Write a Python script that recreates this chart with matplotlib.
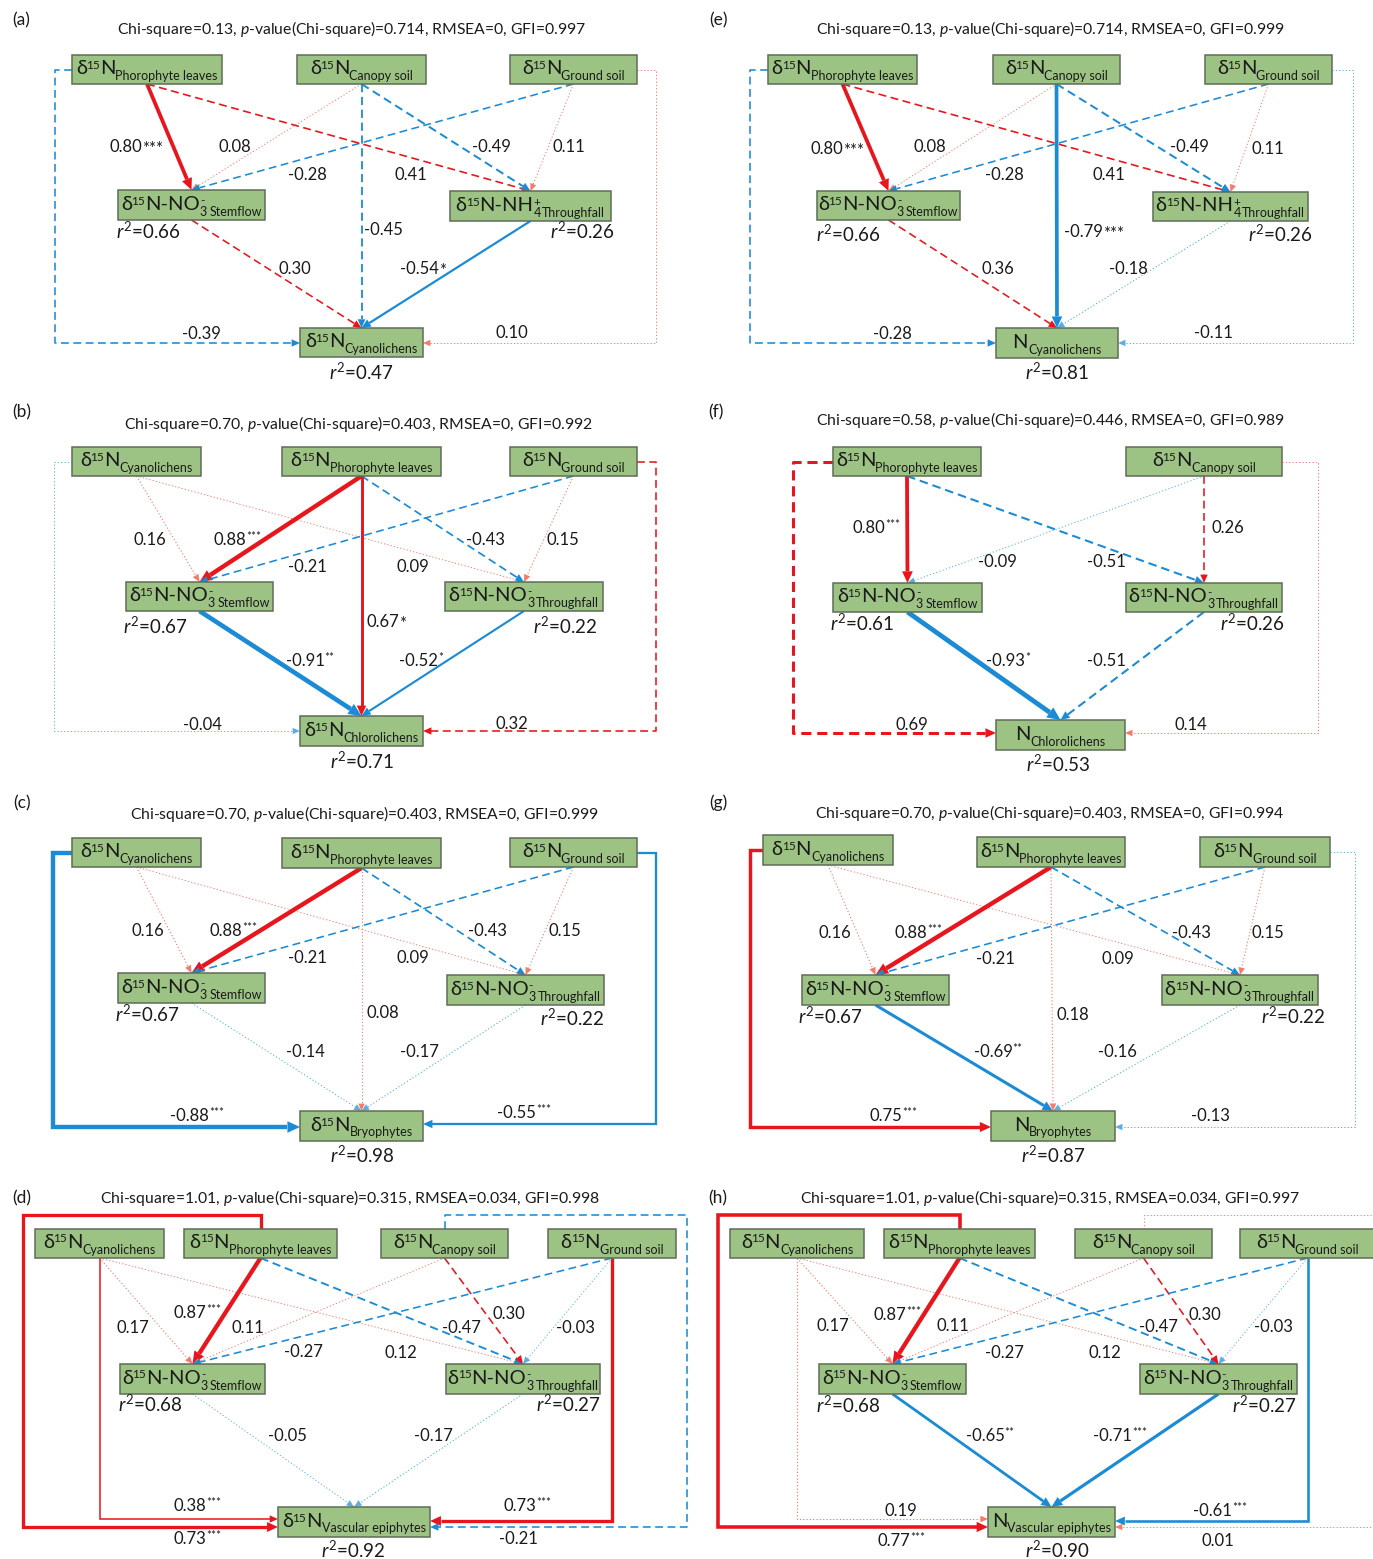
import matplotlib
matplotlib.use("Agg")
import matplotlib.pyplot as plt
from matplotlib.patches import Rectangle, Polygon
import numpy as np

# ---------------------------------------------------------------- fonts
FONT = "Lato"
plt.rcParams["font.family"] = [FONT, "DejaVu Sans"]
plt.rcParams["mathtext.fontset"] = "custom"
plt.rcParams["mathtext.rm"] = FONT
plt.rcParams["mathtext.it"] = FONT + ":italic"
plt.rcParams["mathtext.bf"] = FONT + ":bold"
plt.rcParams["mathtext.sf"] = FONT
plt.rcParams["lines.scale_dashes"] = False

RED, BLUE = "#e8161c", "#1b8bd6"
LRED, LBLUE = "#f47a6a", "#5aaee6"
BOX_FACE, BOX_EDGE = "#9dc384", "#5f6c57"
TXT = "#1a1a1a"

FS_MAIN, FS_SUB, FS_SUP = 14.5, 9.0, 8.5          # node label pieces
FS_COEF, FS_STAR, FS_R2, FS_TITLE, FS_LETTER = 12, 8.5, 13.5, 11.3, 12.5

# ---------------------------------------------------------------- model fit statistics
panels = ["a", "b", "c", "d", "e", "f", "g", "h"]
chi_square = {"a": "0.13", "b": "0.70", "c": "0.70", "d": "1.01",
              "e": "0.13", "f": "0.58", "g": "0.70", "h": "1.01"}
p_value = {"a": "0.714", "b": "0.403", "c": "0.403", "d": "0.315",
           "e": "0.714", "f": "0.446", "g": "0.403", "h": "0.315"}
rmsea = {"a": "0", "b": "0", "c": "0", "d": "0.034",
         "e": "0", "f": "0", "g": "0", "h": "0.034"}
gfi = {"a": "0.997", "b": "0.992", "c": "0.999", "d": "0.998",
       "e": "0.999", "f": "0.989", "g": "0.994", "h": "0.997"}

# ---------------------------------------------------------------- variables in each model
# kind: "iso" -> d15N_name, "n" -> N_name, "no3"/"nh4" -> d15N-NO3-/NH4+ in water
nodes = {
    "a": {"P": ("iso", "Phorophyte leaves"), "C": ("iso", "Canopy soil"), "G": ("iso", "Ground soil"),
          "S": ("no3", "Stemflow"), "T": ("nh4", "Throughfall"), "Y": ("iso", "Cyanolichens")},
    "e": {"P": ("iso", "Phorophyte leaves"), "C": ("iso", "Canopy soil"), "G": ("iso", "Ground soil"),
          "S": ("no3", "Stemflow"), "T": ("nh4", "Throughfall"), "Y": ("n", "Cyanolichens")},
    "b": {"A": ("iso", "Cyanolichens"), "P": ("iso", "Phorophyte leaves"), "G": ("iso", "Ground soil"),
          "S": ("no3", "Stemflow"), "T": ("no3", "Throughfall"), "Y": ("iso", "Chlorolichens")},
    "f": {"P": ("iso", "Phorophyte leaves"), "C": ("iso", "Canopy soil"),
          "S": ("no3", "Stemflow"), "T": ("no3", "Throughfall"), "Y": ("n", "Chlorolichens")},
    "c": {"A": ("iso", "Cyanolichens"), "P": ("iso", "Phorophyte leaves"), "G": ("iso", "Ground soil"),
          "S": ("no3", "Stemflow"), "T": ("no3", "Throughfall"), "Y": ("iso", "Bryophytes")},
    "g": {"A": ("iso", "Cyanolichens"), "P": ("iso", "Phorophyte leaves"), "G": ("iso", "Ground soil"),
          "S": ("no3", "Stemflow"), "T": ("no3", "Throughfall"), "Y": ("n", "Bryophytes")},
    "d": {"A": ("iso", "Cyanolichens"), "P": ("iso", "Phorophyte leaves"), "C": ("iso", "Canopy soil"),
          "G": ("iso", "Ground soil"), "S": ("no3", "Stemflow"), "T": ("no3", "Throughfall"),
          "Y": ("iso", "Vascular epiphytes")},
    "h": {"A": ("iso", "Cyanolichens"), "P": ("iso", "Phorophyte leaves"), "C": ("iso", "Canopy soil"),
          "G": ("iso", "Ground soil"), "S": ("no3", "Stemflow"), "T": ("no3", "Throughfall"),
          "Y": ("n", "Vascular epiphytes")},
}

r_squared = {
    "a": {"S": "0.66", "T": "0.26", "Y": "0.47"},
    "b": {"S": "0.67", "T": "0.22", "Y": "0.71"},
    "c": {"S": "0.67", "T": "0.22", "Y": "0.98"},
    "d": {"S": "0.68", "T": "0.27", "Y": "0.92"},
    "e": {"S": "0.66", "T": "0.26", "Y": "0.81"},
    "f": {"S": "0.61", "T": "0.26", "Y": "0.53"},
    "g": {"S": "0.67", "T": "0.22", "Y": "0.87"},
    "h": {"S": "0.68", "T": "0.27", "Y": "0.90"},
}

# ---------------------------------------------------------------- standardized path coefficients
# (source, target, coefficient, significance)
paths = {
    "a": [("P", "S", 0.80, "***"), ("C", "S", 0.08, ""), ("G", "S", -0.28, ""), ("P", "T", 0.41, ""),
          ("C", "T", -0.49, ""), ("G", "T", 0.11, ""), ("C", "Y", -0.45, ""), ("S", "Y", 0.30, ""),
          ("T", "Y", -0.54, "*"), ("P", "Y", -0.39, ""), ("G", "Y", 0.10, "")],
    "e": [("P", "S", 0.80, "***"), ("C", "S", 0.08, ""), ("G", "S", -0.28, ""), ("P", "T", 0.41, ""),
          ("C", "T", -0.49, ""), ("G", "T", 0.11, ""), ("C", "Y", -0.79, "***"), ("S", "Y", 0.36, ""),
          ("T", "Y", -0.18, ""), ("P", "Y", -0.28, ""), ("G", "Y", -0.11, "")],
    "b": [("A", "S", 0.16, ""), ("A", "T", 0.09, ""), ("P", "S", 0.88, "***"), ("P", "T", -0.43, ""),
          ("P", "Y", 0.67, "*"), ("G", "S", -0.21, ""), ("G", "T", 0.15, ""), ("S", "Y", -0.91, "**"),
          ("T", "Y", -0.52, "*"), ("A", "Y", -0.04, ""), ("G", "Y", 0.32, "")],
    "f": [("P", "S", 0.80, "***"), ("P", "T", -0.51, ""), ("C", "S", -0.09, ""), ("C", "T", 0.26, ""),
          ("S", "Y", -0.93, "*"), ("T", "Y", -0.51, ""), ("P", "Y", 0.69, ""), ("C", "Y", 0.14, "")],
    "c": [("A", "S", 0.16, ""), ("A", "T", 0.09, ""), ("P", "S", 0.88, "***"), ("P", "T", -0.43, ""),
          ("P", "Y", 0.08, ""), ("G", "S", -0.21, ""), ("G", "T", 0.15, ""), ("S", "Y", -0.14, ""),
          ("T", "Y", -0.17, ""), ("A", "Y", -0.88, "***"), ("G", "Y", -0.55, "***")],
    "g": [("A", "S", 0.16, ""), ("A", "T", 0.09, ""), ("P", "S", 0.88, "***"), ("P", "T", -0.43, ""),
          ("P", "Y", 0.18, ""), ("G", "S", -0.21, ""), ("G", "T", 0.15, ""), ("S", "Y", -0.69, "**"),
          ("T", "Y", -0.16, ""), ("A", "Y", 0.75, "***"), ("G", "Y", -0.13, "")],
    "d": [("A", "S", 0.17, ""), ("A", "T", 0.12, ""), ("P", "S", 0.87, "***"), ("P", "T", -0.47, ""),
          ("C", "S", 0.11, ""), ("C", "T", 0.30, ""), ("G", "S", -0.27, ""), ("G", "T", -0.03, ""),
          ("S", "Y", -0.05, ""), ("T", "Y", -0.17, ""), ("P", "Y", 0.73, "***"), ("A", "Y", 0.38, "***"),
          ("G", "Y", 0.73, "***"), ("C", "Y", -0.21, "")],
    "h": [("A", "S", 0.17, ""), ("A", "T", 0.12, ""), ("P", "S", 0.87, "***"), ("P", "T", -0.47, ""),
          ("C", "S", 0.11, ""), ("C", "T", 0.30, ""), ("G", "S", -0.27, ""), ("G", "T", -0.03, ""),
          ("S", "Y", -0.65, "**"), ("T", "Y", -0.71, "***"), ("P", "Y", 0.77, "***"), ("A", "Y", 0.19, ""),
          ("G", "Y", -0.61, "***"), ("C", "Y", 0.01, "")],
}

# ---------------------------------------------------------------- diagram layout (pixel space)
# boxes: (x0, y0, x1, y1); routes aligned with paths:
#   ("line", lx, ly)                         straight arrow, label centre
#   ("side", x_out, y_end, lx, ly)           leave source side, run down, enter target side
#   ("over", y_top, x_out, y_end, lx, ly)    leave source top, loop round, enter target side
#   ("under", y_end, lx, ly)                 leave source bottom, run down, enter target side
layout = {
    "a": dict(letter=(21, 20), title=(351, 29),
              boxes={"P": (72, 55, 222, 84), "C": (297, 55, 426, 84), "G": (510, 55, 637, 84),
                     "S": (118, 190, 265, 220), "T": (450, 191, 611, 221), "Y": (300, 328, 423, 357)},
              r2={"S": (148, 231), "T": (582, 231), "Y": (361, 372)}, inline={0, 8},
              routes=[("line", 136, 146), ("line", 235, 146), ("line", 307, 174), ("line", 411, 174),
                      ("line", 491, 146), ("line", 569, 146), ("line", 383, 229), ("line", 295, 268),
                      ("line", 423, 268), ("side", 55, 343, 201, 333), ("side", 656, 343, 512, 332)]),
    "e": dict(letter=(718, 20), title=(1050, 29),
              boxes={"P": (768, 55, 917, 84), "C": (993, 55, 1120, 84), "G": (1205, 55, 1332, 84),
                     "S": (817, 191, 960, 220), "T": (1153, 192, 1308, 221), "Y": (996, 328, 1118, 358)},
              r2={"S": (848, 234), "T": (1280, 234), "Y": (1057, 372)}, inline={0, 6},
              routes=[("line", 837, 148), ("line", 930, 146), ("line", 1004, 174), ("line", 1109, 174),
                      ("line", 1189, 146), ("line", 1268, 148), ("line", 1094, 231), ("line", 998, 268),
                      ("line", 1128, 268), ("side", 750, 343, 892, 333), ("side", 1353, 343, 1213, 332)]),
    "b": dict(letter=(22, 412), title=(358, 424),
              boxes={"A": (72, 447, 201, 476), "P": (282, 447, 441, 476), "G": (510, 447, 637, 476),
                     "S": (126, 582, 273, 611), "T": (445, 582, 603, 611), "Y": (300, 716, 423, 746)},
              r2={"S": (155, 626), "T": (565, 626), "Y": (362, 761)}, inline={4},
              routes=[("line", 150, 539), ("line", 413, 566), ("line", 237, 539), ("line", 485, 539),
                      ("line", 386, 621), ("line", 307, 566), ("line", 563, 539), ("line", 310, 660),
                      ("line", 421, 660), ("side", 54, 731, 202, 724), ("side", 656, 731, 512, 723)]),
    "f": dict(letter=(716, 412), title=(1050, 420),
              boxes={"P": (833, 447, 981, 476), "C": (1126, 447, 1282, 476),
                     "S": (833, 583, 982, 612), "T": (1126, 583, 1282, 612), "Y": (996, 720, 1125, 750)},
              r2={"S": (862, 623), "T": (1252, 623), "Y": (1058, 764)}, inline=set(),
              routes=[("line", 876, 527), ("line", 1106, 561), ("line", 997, 561), ("line", 1228, 527),
                      ("line", 1008, 660), ("line", 1106, 660), ("side", 793, 733, 912, 724),
                      ("side", 1318, 733, 1191, 724)]),
    "c": dict(letter=(22, 803), title=(364, 814),
              boxes={"A": (72, 838, 201, 867), "P": (282, 838, 441, 868), "G": (510, 838, 637, 867),
                     "S": (118, 973, 265, 1003), "T": (447, 975, 604, 1005), "Y": (300, 1111, 423, 1141)},
              r2={"S": (147, 1014), "T": (572, 1018), "Y": (362, 1155)}, inline=set(),
              routes=[("line", 148, 930), ("line", 413, 957), ("line", 233, 930), ("line", 487, 930),
                      ("line", 383, 1012), ("line", 307, 957), ("line", 565, 930), ("line", 305, 1051),
                      ("line", 419, 1051), ("side", 53, 1127, 197, 1115), ("side", 656, 1124, 524, 1112)]),
    "g": dict(letter=(718, 803), title=(1050, 813),
              boxes={"A": (763, 835, 893, 865), "P": (977, 837, 1125, 867), "G": (1200, 837, 1330, 867),
                     "S": (802, 975, 949, 1005), "T": (1162, 975, 1318, 1005), "Y": (991, 1111, 1115, 1141)},
              r2={"S": (830, 1016), "T": (1293, 1016), "Y": (1053, 1155)}, inline=set(),
              routes=[("line", 835, 932), ("line", 1118, 958), ("line", 918, 932), ("line", 1191, 932),
                      ("line", 1073, 1014), ("line", 995, 958), ("line", 1268, 932), ("line", 998, 1051),
                      ("line", 1117, 1051), ("side", 750, 1127, 893, 1115), ("side", 1355, 1127, 1210, 1115)]),
    "d": dict(letter=(22, 1198), title=(350, 1198),
              boxes={"A": (35, 1229, 164, 1258), "P": (184, 1229, 337, 1258), "C": (381, 1229, 508, 1258),
                     "G": (548, 1229, 676, 1258), "S": (120, 1364, 265, 1394), "T": (446, 1364, 600, 1394),
                     "Y": (278, 1507, 430, 1537)},
              r2={"S": (150, 1404), "T": (568, 1404), "Y": (353, 1550)}, inline=set(),
              routes=[("line", 133, 1327), ("line", 401, 1352), ("line", 197, 1312), ("line", 461, 1327),
                      ("line", 248, 1327), ("line", 509, 1313), ("line", 303, 1351), ("line", 575, 1327),
                      ("line", 287, 1435), ("line", 433, 1435),
                      ("over", 1215, 23, 1527, 197, 1538), ("under", 1519, 197, 1505),
                      ("under", 1521, 527, 1505), ("over", 1215, 687, 1527, 518, 1538)]),
    "h": dict(letter=(718, 1198), title=(1050, 1198),
              boxes={"A": (730, 1229, 864, 1258), "P": (884, 1229, 1035, 1258), "C": (1075, 1229, 1212, 1258),
                     "G": (1240, 1229, 1375, 1258), "S": (819, 1364, 966, 1394), "T": (1140, 1364, 1297, 1394),
                     "Y": (988, 1507, 1115, 1537)},
              r2={"S": (848, 1405), "T": (1264, 1405), "Y": (1057, 1550)}, inline=set(),
              routes=[("line", 833, 1325), ("line", 1105, 1352), ("line", 897, 1314), ("line", 1158, 1326),
                      ("line", 953, 1325), ("line", 1205, 1314), ("line", 1004, 1352), ("line", 1273, 1326),
                      ("line", 990, 1435), ("line", 1120, 1435),
                      ("over", 1215, 718, 1527, 901, 1540), ("under", 1519, 901, 1510),
                      ("under", 1521, 1220, 1510), ("over", 1215, 1385, 1527, 1218, 1540)]),
}

# ---------------------------------------------------------------- helpers
MAIN, SUB, SUP = (FS_MAIN, 0.0), (FS_SUB, 5.5), (FS_SUP, -5.5)


def node_groups(kind, name):
    """Label as a run of glyph groups (pieces, extra advance); pieces in one group share x."""
    if kind == "n":
        return [([("N", MAIN)], 0.0), ([(name, SUB)], 0.0)]
    groups = [([("δ", MAIN)], -1.0), ([("15", SUP)], 0.0)]
    if kind == "iso":
        groups += [([("N", MAIN)], 0.0)]
    elif kind == "no3":
        groups += [([("N-NO", MAIN)], 0.0), ([("3", SUB), ("-", SUP)], 2.0)]
    else:
        groups += [([("N-NH", MAIN)], 0.0), ([("4", SUB), ("+", SUP)], 1.5)]
    return groups + [([(name, SUB)], 0.0)]


def node_label(ax, r, box, kind, name):
    x0, y0, x1, y1 = box
    base = y1 - 10.0
    placed, widths = [], []
    for grp, extra in node_groups(kind, name):
        objs = []
        w = 0.0
        for txt, (fs, dy) in grp:
            t = ax.text(0, base + dy, txt, fontsize=fs, ha="left", va="baseline", color=TXT, zorder=4)
            w = max(w, t.get_window_extent(r).width)
            objs.append(t)
        placed.append(objs)
        widths.append(w + extra)
    x = (x0 + x1) / 2 - sum(widths) / 2
    for objs, w in zip(placed, widths):
        for t in objs:
            t.set_x(x)
        x += w


def path_style(c, stars):
    if stars:
        ls = "solid"
    elif abs(c) >= 0.2:
        ls = "dashed"
    else:
        ls = "dotted"
    if ls == "dotted":
        color = LBLUE if c < 0 else LRED
    else:
        color = BLUE if c < 0 else RED
    wpx = 0.9 + 4.5 * c * c
    if ls == "dashed":
        wpx = max(wpx, 1.6)
    return ls, color, wpx


def draw_arrow(ax, pts, c, stars):
    ls, color, wpx = path_style(c, stars)
    pts = np.asarray(pts, dtype=float)
    tip, prev = pts[-1], pts[-2]
    d = tip - prev
    d /= np.hypot(*d)
    n = np.array([-d[1], d[0]])
    head_len = 6.0 + 1.5 * wpx
    head_hw = 2.5 + 0.75 * wpx
    base = tip - d * head_len
    line = np.vstack([pts[:-1], base])
    wpt = wpx * 0.72
    if ls == "solid":
        dashes = "solid"
    elif ls == "dashed":
        dashes = (0, (3.8 + 1.6 * wpt, 2.2 + 0.9 * wpt))
    else:
        dashes = (0, (0.9, 1.5))
    ax.plot(line[:, 0], line[:, 1], color=color, lw=wpt, linestyle=dashes,
            solid_capstyle="butt", dash_capstyle="butt", solid_joinstyle="miter", zorder=2)
    head = np.array([tip, base + n * head_hw, base - n * head_hw])
    ax.add_patch(Polygon(head, closed=True, facecolor=color, edgecolor="none", zorder=2))


def coef_label(ax, r, x, y, c, stars, inline):
    num = f"{c:.2f}"
    base_y = y + 6.0
    t1 = ax.text(0, base_y, num, fontsize=FS_COEF, ha="left", va="baseline", color=TXT, zorder=5)
    w1 = t1.get_window_extent(r).width
    t2, w2 = None, 0.0
    if stars:
        if inline:
            t2 = ax.text(0, base_y + 2, stars, fontsize=FS_COEF, ha="left", va="baseline", color=TXT, zorder=5)
        else:
            t2 = ax.text(0, base_y - 5, stars, fontsize=FS_STAR, ha="left", va="baseline", color=TXT, zorder=5)
        w2 = t2.get_window_extent(r).width
    x0 = x - (w1 + w2) / 2
    t1.set_x(x0)
    if t2 is not None:
        t2.set_x(x0 + w1)


# ---------------------------------------------------------------- figure
W, H = 1373, 1559
fig = plt.figure(figsize=(W / 100, H / 100), dpi=100)
ax = fig.add_axes([0, 0, 1, 1])
ax.set_xlim(0, W)
ax.set_ylim(H, 0)
ax.axis("off")
renderer = fig.canvas.get_renderer()

for pid in panels:
    lay = layout[pid]
    boxes = lay["boxes"]

    ax.text(*lay["letter"], f"({pid})", fontsize=FS_LETTER, ha="center", va="center", color=TXT)
    title = (f"Chi-square={chi_square[pid]}, $\\mathit{{p}}$-value(Chi-square)={p_value[pid]}, "
             f"RMSEA={rmsea[pid]}, GFI={gfi[pid]}")
    ax.text(*lay["title"], title, fontsize=FS_TITLE, ha="center", va="center", color=TXT)

    # variable boxes
    for key, (kind, name) in nodes[pid].items():
        x0, y0, x1, y1 = boxes[key]
        ax.add_patch(Rectangle((x0, y0), x1 - x0, y1 - y0, facecolor=BOX_FACE,
                               edgecolor=BOX_EDGE, lw=1.1, zorder=3))
        node_label(ax, renderer, boxes[key], kind, name)

    for key, val in r_squared[pid].items():
        ax.text(*lay["r2"][key], r"$\mathit{r}^{2}$=" + val, fontsize=FS_R2,
                ha="center", va="center", color=TXT, zorder=4)

    # paths
    for i, ((src, dst, c, stars), route) in enumerate(zip(paths[pid], lay["routes"])):
        sx0, sy0, sx1, sy1 = boxes[src]
        dx0, dy0, dx1, dy1 = boxes[dst]
        scx, dcx = (sx0 + sx1) / 2, (dx0 + dx1) / 2
        kind = route[0]
        if kind == "line":
            pts = [(scx, sy1), (dcx, dy0)]
        elif kind == "side":
            x_out, y_end = route[1], route[2]
            sy = (sy0 + sy1) / 2
            sx = sx0 if x_out < sx0 else sx1
            ex = dx0 if x_out < dx0 else dx1
            pts = [(sx, sy), (x_out, sy), (x_out, y_end), (ex, y_end)]
        elif kind == "over":
            y_top, x_out, y_end = route[1], route[2], route[3]
            ex = dx0 if x_out < dx0 else dx1
            pts = [(scx, sy0), (scx, y_top), (x_out, y_top), (x_out, y_end), (ex, y_end)]
        else:  # under
            y_end = route[1]
            ex = dx0 if scx < dx0 else dx1
            pts = [(scx, sy1), (scx, y_end), (ex, y_end)]
        draw_arrow(ax, pts, c, stars)
        lx, ly = route[-2], route[-1]
        coef_label(ax, renderer, lx, ly, c, stars, i in lay["inline"])

fig.savefig("out.png", dpi=100, facecolor="white")
